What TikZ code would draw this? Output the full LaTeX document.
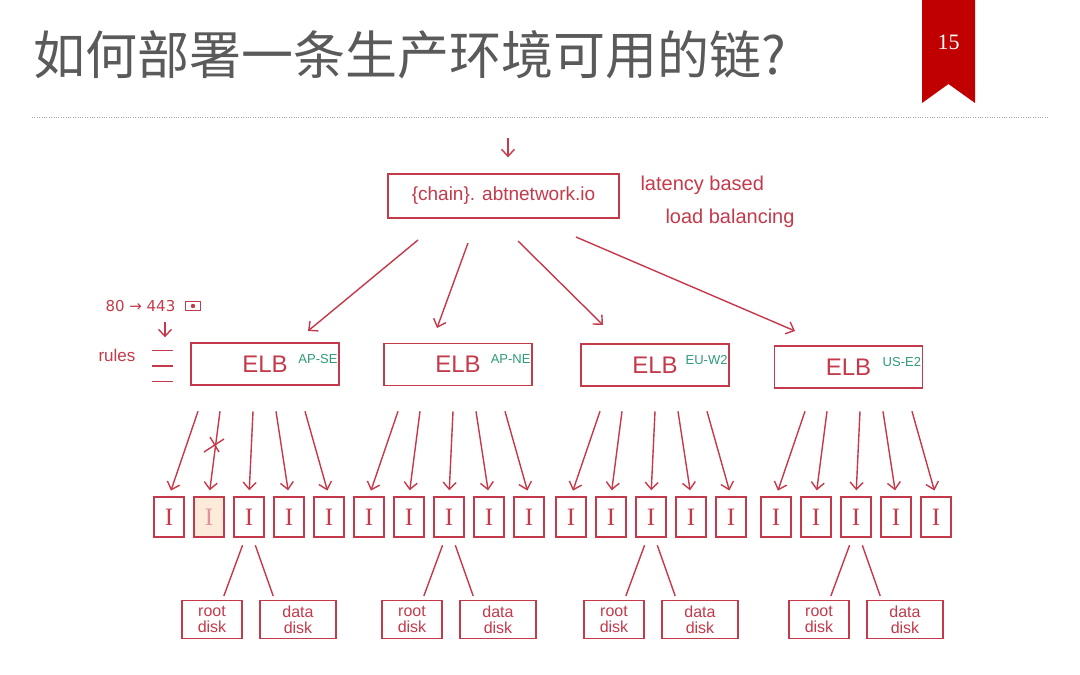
\documentclass[tikz,border=0pt]{standalone}
\usepackage{fontspec}
\setmainfont{Liberation Sans}
\newfontfamily\cjkfont{Noto Sans CJK SC}
\newfontfamily\numfont{Liberation Serif}
\newfontfamily\symfont{DejaVu Sans}
\usetikzlibrary{arrows.meta,calc}
\definecolor{ink}{HTML}{C53A4B}
\definecolor{regionink}{HTML}{2E9A7A}
\definecolor{ribbon}{HTML}{C00000}
\definecolor{titlegray}{HTML}{5A5A5A}
\definecolor{peach}{HTML}{FCEBD9}

\begin{document}
\begin{tikzpicture}[x=1pt,y=-1pt]
      \tikzset{hand/.style = {text=ink, font=\fontsize{20}{22}\selectfont},
               box/.style = {draw=ink, line width=1.4pt, inner sep=0pt},
               elbbox/.style = {box, hand, minimum width=148pt, minimum height=42pt,
                                font=\fontsize{24}{24}\selectfont},
               instbox/.style = {box, text=ink, minimum width=30pt, minimum height=40pt,
                                 font=\numfont\fontsize{25}{25}\selectfont},
               inst-1-2/.style = {fill=peach, text=ink!55},
               diskbox/.style = {box, text=ink, align=center, minimum height=38pt,
                                 font=\fontsize{16}{16}\selectfont},
               regionlabel/.style = {text=regionink, inner sep=0pt, font=\fontsize{13}{13}\selectfont},
               link/.style = {draw=ink, line width=1.4pt},
               arrow/.style = {link, -{Straight Barb[length=7pt,width=13pt]}}}
      \useasboundingbox (0,0) rectangle (1080,675);
      \fill[white] (0,0) rectangle (1080,675);

      % Title
      \node[anchor=west, inner sep=0pt, text=titlegray, font=\cjkfont\fontsize{52}{52}\selectfont]
        (title) at (33,55) {如何部署一条生产环境可用的链?};
      \fill[ribbon] (922,0) -- (975,0) -- (975,103) -- (948.5,84) -- (922,103) -- cycle;
      \node[text=white, font=\numfont\fontsize{22}{22}\selectfont] (page) at (948.5,42) {15};
      \draw[gray!70, line width=0.8pt, dash pattern=on 0.8pt off 1.6pt] (32,117) -- (1048,117);

      % Vertices
      \node[box, hand, minimum width=231pt, minimum height=44pt,
            font=\fontsize{19}{21}\selectfont] (chain) at (503.5,196) {\{chain\}. abtnetwork.io};
      \node[hand, anchor=west] (latency) at (637,185) {latency based};
      \node[hand, anchor=west] (balancing) at (662,218) {load balancing};
      \coordinate (entry) at (508,138);

      \node[elbbox] (elb1) at (265,364) {ELB};
      \node[elbbox] (elb2) at (458,364.5) {ELB};
      \node[elbbox] (elb3) at (655,365) {ELB};
      \node[elbbox] (elb4) at (848.5,367) {ELB};
      \foreach \n/\r in {1/AP-SE,2/AP-NE,3/EU-W2,4/US-E2}
        \node[regionlabel, anchor=east] (region\n) at ($(elb\n.east)+(-2,-5)$) {\r};

      \node[hand, anchor=west, font=\symfont\fontsize{15}{15}\selectfont] (ports) at (102,306) {80 → 443};
      \node[draw=ink, line width=1pt, minimum width=15pt, minimum height=9pt, inner sep=0pt]
        (lock) at (193,306) {};
      \fill[ink] (lock.center) circle (2.2pt);
      \coordinate (redirect) at (165,322);
      \node[hand, anchor=west, font=\fontsize{17}{17}\selectfont] (rules) at (95,355) {rules};
      \node[minimum width=20pt, minimum height=31pt, inner sep=0pt] (rulelist) at (162.5,366) {};
      \draw[link] (rulelist.north west) -- (rulelist.north east)
                  (rulelist.west) -- (rulelist.east)
                  (rulelist.south west) -- (rulelist.south east);

      % Edges
      \draw[arrow, shorten >=16pt] (entry) -- (entry |- chain.north);
      \draw[arrow, shorten >=13pt] (redirect) -- (redirect |- rulelist.north);
      \foreach \n/\sx/\sy/\tx/\ty in {1/418/240/308/331, 2/468/243/437/328,
                                      3/518/241/603/325, 4/576/237/795/331} {
        \coordinate (fan\n) at (\sx,\sy);
        \coordinate (land\n) at (\tx,\ty);
        \draw[arrow] (fan\n) -- (land\n);
      }

      % Instances and their disks
      \foreach \g/\start in {1/154,2/354,3/556,4/761} {
        \foreach \k/\dx in {1/29,2/11,3/4,4/-13,5/-24} {
          \node[instbox, inst-\g-\k/.try] (i-\g-\k) at ({\start+15+40*(\k-1)},517) {I};
          \coordinate (s-\g-\k) at ($(i-\g-\k.north)+(\dx,-85)$);
          \draw[arrow, shorten >=6pt] (s-\g-\k) -- (i-\g-\k.north);
        }
        \node[diskbox, minimum width=60pt, anchor=north] (root-\g) at ($(i-\g-3.south)+(-37,62)$) {root\\disk};
        \node[diskbox, minimum width=76pt, anchor=north] (data-\g) at ($(i-\g-3.south)+(49,62)$) {data\\disk};
        \draw[link, shorten <=8pt, shorten >=4pt] (i-\g-3.-100) -- (root-\g.62);
        \draw[link, shorten <=8pt, shorten >=4pt] (i-\g-3.-80) -- (data-\g.140);
      }
      \coordinate (cut) at (215,445);
      \draw[link] (cut) +(-11,7) -- +(9,-6);
      \draw[link] (cut) +(-5,-8) -- +(4,7);
\end{tikzpicture}
\end{document}
